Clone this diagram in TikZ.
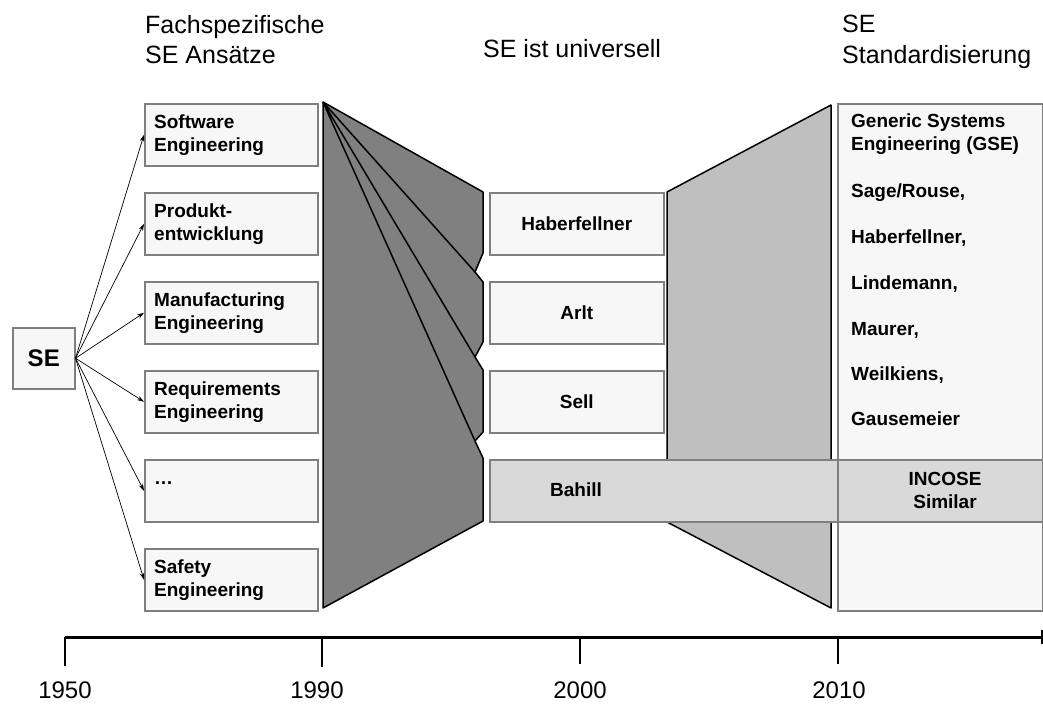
\documentclass[tikz,border=0pt]{standalone}
\usepackage{fontspec}
\setmainfont{Liberation Sans}
\usetikzlibrary{arrows.meta}
\definecolor{boxfill}{HTML}{F7F7F7}
\definecolor{boxline}{HTML}{7F7F7F}
\definecolor{darkwedge}{HTML}{808080}
\definecolor{lightwedge}{HTML}{BFBFBF}
\definecolor{bandfill}{HTML}{D9D9D9}
\begin{document}
\begin{tikzpicture}[x=1pt,y=-1pt,
  box/.style={draw=boxline,fill=boxfill,line width=1.5pt,inner sep=0pt,anchor=north west},
  band/.style={box,fill=bandfill},
  btext/.style={font=\fontsize{19}{23}\selectfont\bfseries,inner sep=0pt},
  htext/.style={font=\fontsize{25}{30}\selectfont,inner sep=0pt},
  ytext/.style={font=\fontsize{24}{30}\selectfont,inner sep=0pt},
  arr/.style={line width=0.7pt,-{Stealth[length=7pt,width=4.5pt]}},
  wedge/.style={draw=black,line width=1.5pt,line join=round},
  tick/.style={line width=2.5pt}]
\useasboundingbox (0,0) rectangle (1043,704);

% headings
\node[htext,anchor=base west] (h1a) at (145,33) {Fachspezifische};
\node[htext,anchor=base west] (h1b) at (145,63) {SE Ansätze};
\node[htext,anchor=base west] (h2) at (483,57) {SE ist universell};
\node[htext,anchor=base west] (h3a) at (842,32) {SE};
\node[htext,anchor=base west] (h3b) at (842,63) {Standardisierung};

% root box
\node[box,minimum width=62pt,minimum height=61pt] (se) at (12,327) {};
\node[font=\fontsize{24}{28}\selectfont\bfseries,inner sep=0pt] (set) at (se.center) {SE};

% discipline boxes
\node[box,minimum width=173pt,minimum height=62pt] (sw) at (144,103) {};
\node[box,minimum width=173pt,minimum height=62pt] (pe) at (144,192) {};
\node[box,minimum width=173pt,minimum height=62pt] (mf) at (144,281) {};
\node[box,minimum width=173pt,minimum height=62pt] (re) at (144,370) {};
\node[box,minimum width=173pt,minimum height=62pt] (dt) at (144,459) {};
\node[box,minimum width=173pt,minimum height=62pt] (sf) at (144,548) {};

\node[btext,anchor=base west] (sw1) at (154,128) {Software};
\node[btext,anchor=base west] (sw2) at (154,151) {Engineering};
\node[btext,anchor=base west] (pe1) at (154,217) {Produkt-};
\node[btext,anchor=base west] (pe2) at (154,240) {entwicklung};
\node[btext,anchor=base west] (mf1) at (154,306) {Manufacturing};
\node[btext,anchor=base west] (mf2) at (154,329) {Engineering};
\node[btext,anchor=base west] (re1) at (154,395) {Requirements};
\node[btext,anchor=base west] (re2) at (154,418) {Engineering};
\node[btext,anchor=base west] (dt1) at (154,484) {…};
\node[btext,anchor=base west] (sf1) at (154,573) {Safety};
\node[btext,anchor=base west] (sf2) at (154,596) {Engineering};

\foreach \b in {sw,pe,mf,re,dt,sf}
  \draw[arr] (se.east) -- (\b.west);

% dark funnel 1990
\coordinate (dA) at (323,102);
\coordinate (dB) at (483,192);
\coordinate (dC) at (483,253);
\coordinate (n1) at (475,272);
\coordinate (dD) at (483,282);
\coordinate (dE) at (483,342);
\coordinate (n2) at (475,357);
\coordinate (dF) at (483,370);
\coordinate (dG) at (483,432);
\coordinate (n3) at (475,441);
\coordinate (dH) at (483,458);
\coordinate (dI) at (483,521);
\coordinate (dJ) at (323,608);
\draw[wedge,fill=darkwedge] (dA) -- (dB) -- (dC) -- (n1) -- (dD) -- (dE) -- (n2)
  -- (dF) -- (dG) -- (n3) -- (dH) -- (dI) -- (dJ) -- cycle;
\draw[wedge] (dA) -- (n1) (dA) -- (n2) (dA) -- (n3);

% light funnel 2010
\coordinate (lA) at (667,192);
\coordinate (lB) at (831,105);
\coordinate (lC) at (831,608);
\coordinate (lD) at (667,522);
\draw[wedge,fill=lightwedge] (lA) -- (lB) -- (lC) -- (lD) -- cycle;

% universal approaches
\node[box,minimum width=174pt,minimum height=62pt] (hb) at (489,192) {};
\node[box,minimum width=174pt,minimum height=62pt] (ar) at (489,281) {};
\node[box,minimum width=174pt,minimum height=62pt] (sl) at (489,370) {};
\node[band,minimum width=348pt,minimum height=62pt] (bh) at (489,459) {};
\node[btext] (hbt) at (hb.center) {Haberfellner};
\node[btext] (art) at (ar.center) {Arlt};
\node[btext] (slt) at (sl.center) {Sell};
\node[btext] (bht) at (576,490) {Bahill};

% standardisation column
\node[box,minimum width=205pt,minimum height=507pt] (std) at (837,103) {};
\node[band,minimum width=205pt,minimum height=62pt] (inc) at (837,459) {};
\node[btext,anchor=base west] (g1) at (851,127) {Generic Systems};
\node[btext,anchor=base west] (g2) at (851,150) {Engineering (GSE)};
\node[btext,anchor=base west] (g3) at (851,197) {Sage/Rouse,};
\node[btext,anchor=base west] (g4) at (851,243) {Haberfellner,};
\node[btext,anchor=base west] (g5) at (851,289) {Lindemann,};
\node[btext,anchor=base west] (g6) at (851,335) {Maurer,};
\node[btext,anchor=base west] (g7) at (851,380) {Weilkiens,};
\node[btext,anchor=base west] (g8) at (851,425) {Gausemeier};
\node[btext,anchor=base] (inc1) at (945,485) {INCOSE};
\node[btext,anchor=base] (inc2) at (945,508) {Similar};

% time axis
\coordinate (t0) at (65,637);
\coordinate (t1) at (322,637);
\coordinate (t2) at (580,637);
\coordinate (t3) at (838,637);
\coordinate (tE) at (1042,637);
\draw[line width=3pt] (t0) -- (tE);
\draw[tick] (t0) -- ++(0,29);
\draw[tick] (t1) -- ++(0,30);
\draw[tick] (t2) -- ++(0,27);
\draw[tick] (t3) -- ++(0,27);
\draw[line width=2pt] (1042,630) -- (1042,644);
\node[ytext,anchor=base] (y1) at (65,698) {1950};
\node[ytext,anchor=base] (y2) at (317,698) {1990};
\node[ytext,anchor=base] (y3) at (580,698) {2000};
\node[ytext,anchor=base] (y4) at (839,698) {2010};
\end{tikzpicture}
\end{document}
